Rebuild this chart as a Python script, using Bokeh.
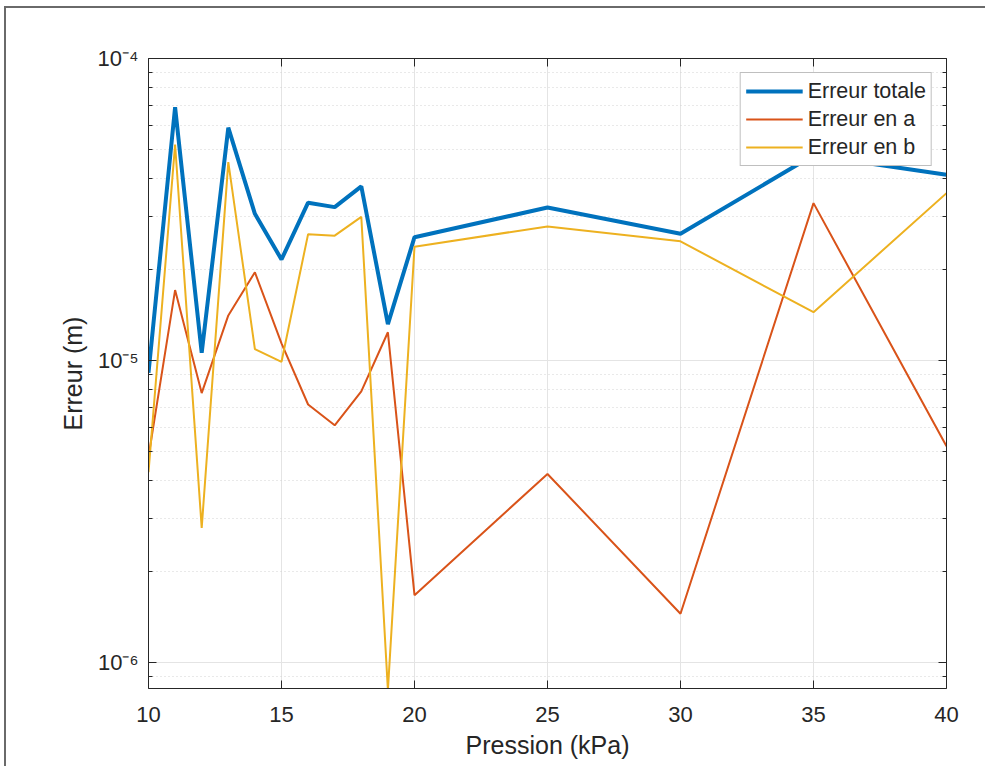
from bokeh.plotting import figure
from bokeh.models import (LinearAxis, LogAxis, FixedTicker, Range1d, Legend, LegendItem)
from bokeh.embed import file_html
from bokeh.resources import INLINE

# ---- data ----
pression = [10, 11, 12, 13, 14, 15, 16, 17, 18, 19, 20, 25, 30, 35, 40]
erreur_totale = [9.1e-6, 6.9e-5, 1.06e-5, 5.9e-5, 3.06e-5, 2.16e-5, 3.33e-5, 3.22e-5,
                 3.77e-5, 1.32e-5, 2.56e-5, 3.21e-5, 2.63e-5, 4.78e-5, 4.12e-5]
erreur_a = [4.8e-6, 1.71e-5, 7.8e-6, 1.41e-5, 1.96e-5, 1.14e-5, 7.15e-6, 6.1e-6,
            7.9e-6, 1.24e-5, 1.67e-6, 4.21e-6, 1.45e-6, 3.32e-5, 5.2e-6]
erreur_b = [4.27e-6, 5.19e-5, 2.79e-6, 4.54e-5, 1.09e-5, 9.9e-6, 2.62e-5, 2.59e-5,
            2.99e-5, 8.1e-7, 2.38e-5, 2.78e-5, 2.48e-5, 1.445e-5, 3.58e-5]
series_labels = ["Erreur totale", "Erreur en a", "Erreur en b"]
x_ticks = [10, 15, 20, 25, 30, 35, 40]
y_ticks = [1e-6, 1e-5, 1e-4]
y_tick_labels = ["10⁻⁶", "10⁻⁵", "10⁻⁴"]
x_label = "Pression (kPa)"
y_label = "Erreur (m)"

FONT = "Liberation Sans"
TXT = "#262626"
AX = "#262626"

p = figure(width=985, height=766, y_axis_type="log",
           x_range=Range1d(10, 40), y_range=Range1d(8.2e-7, 1e-4),
           output_backend="svg", toolbar_location=None,
           min_border_left=148, min_border_top=58, min_border_right=39, min_border_bottom=78)
p.outline_line_color = None
p.background_fill_color = "white"
p.border_fill_color = None
p.styles = {"background": "linear-gradient(#6a6a6a, #6a6a6a) 5px 6px / 100% 2px no-repeat, "
                          "linear-gradient(#6a6a6a, #6a6a6a) 4px 6px / 2px 100% no-repeat, white"}

minor = [k * 10.0 ** e for e in (-7, -6, -5) for k in range(2, 10)]
xt = FixedTicker(ticks=x_ticks)
yt = FixedTicker(ticks=y_ticks, minor_ticks=minor)
overrides = {t: lab for t, lab in zip(y_ticks, y_tick_labels)}

def style_axis(ax, labels=True):
    ax.axis_line_color = AX
    ax.axis_line_width = 1
    ax.major_tick_line_color = AX
    ax.minor_tick_line_color = AX
    ax.major_tick_in = 8
    ax.major_tick_out = 0
    ax.minor_tick_in = 4
    ax.minor_tick_out = 0
    ax.major_label_text_font = FONT
    ax.major_label_text_color = TXT if labels else None
    ax.major_label_text_font_size = "22px" if labels else "2px"
    ax.axis_label_text_font = FONT
    ax.axis_label_text_color = TXT
    ax.axis_label_text_font_size = "25px"
    ax.axis_label_text_font_style = "normal"

xa = p.xaxis[0]
xa.ticker = xt
style_axis(xa)
xa.axis_label = x_label
xa.major_label_standoff = 18
xa.axis_label_standoff = 6

ya = p.yaxis[0]
ya.ticker = yt
ya.major_label_overrides = overrides
style_axis(ya)
ya.axis_label = y_label
ya.major_label_standoff = 10
ya.axis_label_standoff = 8

top = LinearAxis(ticker=FixedTicker(ticks=x_ticks))
style_axis(top, labels=False)
top.major_label_standoff = 0
p.add_layout(top, "above")
right = LogAxis(ticker=FixedTicker(ticks=y_ticks, minor_ticks=minor))
style_axis(right, labels=False)
right.major_label_standoff = 0
p.add_layout(right, "right")

p.xgrid.ticker = xt
p.xgrid.grid_line_color = "#e4e4e4"
p.xgrid.grid_line_width = 1
p.ygrid.ticker = yt
p.ygrid.grid_line_color = "#e4e4e4"
p.ygrid.minor_grid_line_color = "#d2d2d2"
p.ygrid.minor_grid_line_dash = "1 3"

r_tot = p.line(pression, erreur_totale, line_color="#0072BD", line_width=4)
r_a = p.line(pression, erreur_a, line_color="#D95319", line_width=2)
r_b = p.line(pression, erreur_b, line_color="#EDB120", line_width=2)

legend = Legend(items=[LegendItem(label=series_labels[0], renderers=[r_tot]),
                       LegendItem(label=series_labels[1], renderers=[r_a]),
                       LegendItem(label=series_labels[2], renderers=[r_b])],
                location="top_right", margin=14, padding=5, spacing=2,
                label_height=26, glyph_width=57, glyph_height=20, label_standoff=5,
                label_text_font=FONT, label_text_font_size="21.5px", label_text_color=TXT,
                border_line_color="#808080", border_line_width=1,
                background_fill_color="white", background_fill_alpha=1)
p.add_layout(legend)

open("out.html", "w").write(file_html(p, INLINE))
